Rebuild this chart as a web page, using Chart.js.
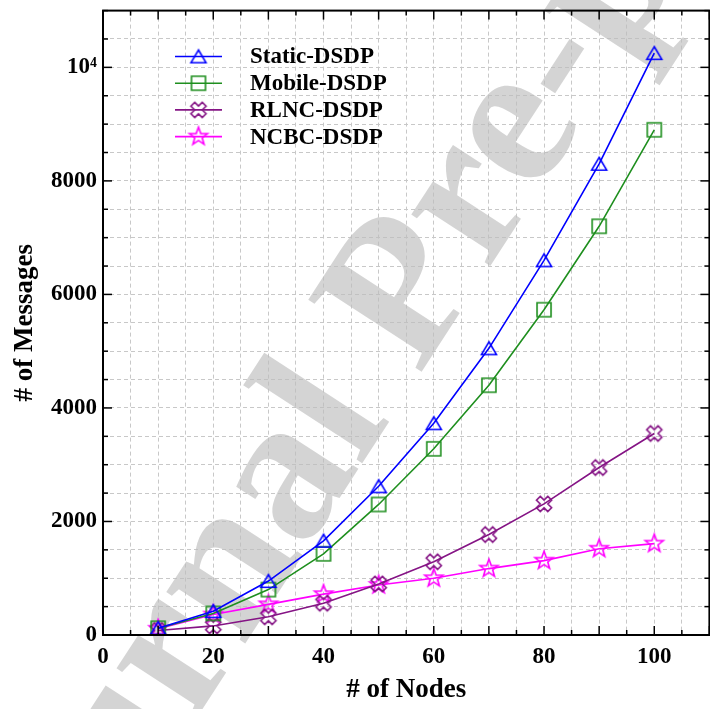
<!DOCTYPE html>
<html>
<head>
<meta charset="utf-8">
<script src="https://cdn.jsdelivr.net/npm/chart.js@4.4.0/dist/chart.umd.min.js"></script>
<style>
  html, body { margin: 0; padding: 0; background: #fff; overflow: hidden; }
  canvas { display: block; }
</style>
</head>
<body>
<canvas id="chart" width="720" height="709"></canvas>
<script>
// message counts per network size
const NODES = [10, 20, 30, 40, 50, 60, 70, 80, 90, 100]
const STATIC_DSDP = [120, 420, 950, 1660, 2620, 3730, 5050, 6600, 8300, 10250]
const MOBILE_DSDP = [120, 380, 800, 1430, 2300, 3280, 4400, 5730, 7200, 8900]
const RLNC_DSDP = [80, 160, 320, 560, 900, 1290, 1770, 2310, 2950, 3550]
const NCBC_DSDP = [110, 360, 540, 720, 880, 1000, 1170, 1310, 1520, 1610]
const SERIES_NAMES = ['Static-DSDP', 'Mobile-DSDP', 'RLNC-DSDP', 'NCBC-DSDP']

const X_TICKS = [0, 20, 40, 60, 80, 100]
const Y_TICKS = [0, 2000, 4000, 6000, 8000, 10000]
const Y_TICK_TEXT = ['0', '2000', '4000', '6000', '8000', '10⁴']

const SERIF = "'Liberation Serif', 'Times New Roman', serif"
const COLORS = ['#0000ff', '#1f8f1f', '#851485', '#ff00ff']

// open markers drawn once on small canvases
const makeMarker = (color, path) => {
    const c = document.createElement('canvas')
    c.width = 26
    c.height = 26
    const g = c.getContext('2d')
    g.translate(13, 13)
    g.strokeStyle = color
    g.lineWidth = 1.6
    g.beginPath()
    path(g)
    g.closePath()
    g.stroke()
    return c
}

const trianglePath = g => {
    g.moveTo(0, -6.5)
    g.lineTo(7.5, 6.2)
    g.lineTo(-7.5, 6.2)
}

const squarePath = g => g.rect(-7, -7, 14, 14)

const crossPath = g => {
    // plus outline turned by 45 degrees
    const a = 8, w = 2.7
    const pts = [[-w, -a], [w, -a], [w, -w], [a, -w], [a, w], [w, w], [w, a], [-w, a], [-w, w], [-a, w], [-a, -w], [-w, -w]]
    const c = Math.SQRT1_2
    pts.forEach(([px, py], i) => {
        const rx = (px - py) * c, ry = (px + py) * c
        i ? g.lineTo(rx, ry) : g.moveTo(rx, ry)
    })
}

const starPath = g => {
    const R = 9.5, r = 3.9
    for (let i = 0; i < 10; i++) {
        const ang = -Math.PI / 2 + i * Math.PI / 5
        const rad = i % 2 ? r : R
        const px = Math.cos(ang) * rad, py = Math.sin(ang) * rad
        i ? g.lineTo(px, py) : g.moveTo(px, py)
    }
}

const MARKERS = [
    makeMarker(COLORS[0], trianglePath),
    makeMarker(COLORS[1], squarePath),
    makeMarker(COLORS[2], crossPath),
    makeMarker(COLORS[3], starPath)
]

const SERIES = [STATIC_DSDP, MOBILE_DSDP, RLNC_DSDP, NCBC_DSDP]

const datasets = SERIES.map((values, i) => ({
    label: SERIES_NAMES[i],
    data: NODES.map((n, j) => ({ x: n, y: values[j] })),
    borderColor: COLORS[i],
    borderWidth: 1.6,
    pointStyle: MARKERS[i],
    pointRadius: 9,
    tension: 0,
    fill: false
}))

// grey slanted watermark text, over the axes but under the curves
const watermark = {
    id: 'watermark',
    beforeDatasetsDraw(chart) {
        const ctx = chart.ctx
        ctx.save()
        ctx.translate(405, 300)
        ctx.rotate(-57 * Math.PI / 180)
        ctx.font = `bold 205px ${SERIF}`
        ctx.fillStyle = 'rgba(190, 190, 190, 0.66)'
        ctx.textAlign = 'center'
        ctx.textBaseline = 'middle'
        ctx.fillText('Journal Pre-proof', 0, 0)
        ctx.restore()
    }
}

// box around the plot with inward tick marks on all sides
const frame = {
    id: 'frame',
    afterDraw(chart) {
        const { ctx, chartArea: a, scales: { x, y } } = chart
        const seg = (x1, y1, x2, y2) => {
            ctx.beginPath()
            ctx.moveTo(x1, y1)
            ctx.lineTo(x2, y2)
            ctx.stroke()
        }
        ctx.save()
        ctx.strokeStyle = '#000'
        ctx.lineWidth = 1.5
        for (let v = 0; v <= x.max; v += 5) {
            const px = x.getPixelForValue(v)
            const len = v % 10 === 0 ? 9 : 5
            seg(px, a.bottom, px, a.bottom - len)
            seg(px, a.top, px, a.top + len)
        }
        for (let v = 0; v <= y.max; v += 500) {
            const py = y.getPixelForValue(v)
            const len = v % 2000 === 0 ? 9 : 5
            seg(a.left, py, a.left + len, py)
            seg(a.right, py, a.right - len, py)
        }
        ctx.lineWidth = 2
        ctx.strokeRect(a.left, a.top, a.right - a.left, a.bottom - a.top)
        ctx.restore()
    }
}

// legend inside the plot: short line, marker, name
const legendBox = {
    id: 'legendBox',
    afterDraw(chart) {
        const ctx = chart.ctx
        ctx.save()
        ctx.font = `bold 23px ${SERIF}`
        ctx.textBaseline = 'middle'
        ctx.fillStyle = '#000'
        chart.data.datasets.forEach((ds, i) => {
            const ly = 56.5 + i * 26.7
            ctx.strokeStyle = ds.borderColor
            ctx.lineWidth = 1.6
            ctx.beginPath()
            ctx.moveTo(175, ly)
            ctx.lineTo(222, ly)
            ctx.stroke()
            ctx.drawImage(ds.pointStyle, 198.5 - 13, ly - 13)
            ctx.fillText(ds.label, 250, ly + 1)
        })
        ctx.restore()
    }
}

const tickFont = { family: SERIF, size: 23, weight: 'bold' }
const titleFont = { family: SERIF, size: 27, weight: 'bold' }

window.chart = new Chart(document.getElementById('chart').getContext('2d'), {
    type: 'line',
    data: { datasets },
    options: {
        responsive: false,
        animation: false,
        layout: { padding: { top: 6, right: 4, left: 0, bottom: 0 } },
        plugins: {
            legend: { display: false },
            tooltip: { enabled: false }
        },
        scales: {
            x: {
                type: 'linear',
                min: 0,
                max: 110,
                afterFit: s => {
                    s.height = 74
                    s.paddingLeft = 0
                    s.paddingRight = 0
                },
                grid: { color: '#c8c8c8', lineWidth: 1, drawTicks: false },
                border: { display: false, dash: [4, 3] },
                ticks: {
                    stepSize: 5,
                    autoSkip: false,
                    maxRotation: 0,
                    padding: 8,
                    color: '#000',
                    font: tickFont,
                    callback: v => X_TICKS.includes(v) ? String(v) : ''
                },
                title: {
                    display: true,
                    text: '# of Nodes',
                    color: '#000',
                    font: titleFont,
                    padding: { top: 0, bottom: 3 }
                }
            },
            y: {
                type: 'linear',
                min: 0,
                max: 11000,
                afterFit: s => {
                    s.width = 103
                    s.paddingTop = 0
                    s.paddingBottom = 0
                },
                grid: { color: '#c8c8c8', lineWidth: 1, drawTicks: false },
                border: { display: false, dash: [4, 3] },
                ticks: {
                    stepSize: 500,
                    autoSkip: false,
                    padding: 6,
                    color: '#000',
                    font: tickFont,
                    callback: v => {
                        const k = Y_TICKS.indexOf(v)
                        return k < 0 ? '' : Y_TICK_TEXT[k]
                    }
                },
                title: {
                    display: true,
                    text: '# of Messages',
                    color: '#000',
                    font: titleFont,
                    padding: { top: 9, bottom: 0 }
                }
            }
        }
    },
    plugins: [watermark, frame, legendBox]
})
</script>
</body>
</html>
